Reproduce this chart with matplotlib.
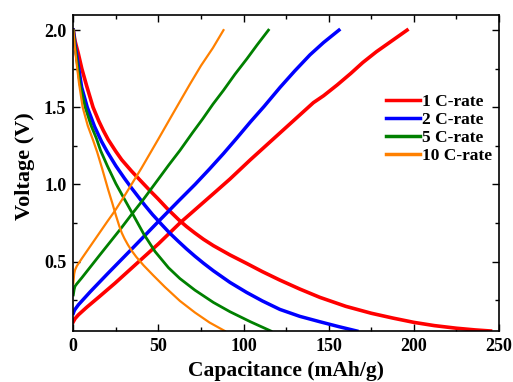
import matplotlib
matplotlib.use("Agg")
import matplotlib.pyplot as plt
from matplotlib.ticker import MultipleLocator

plt.rcParams["font.family"] = ["Liberation Serif", "DejaVu Serif"]
plt.rcParams["font.weight"] = "bold"

labels = ["1 C-rate", "2 C-rate", "5 C-rate", "10 C-rate"]
colors = ["#ff0000", "#0000ff", "#008000", "#ff8000"]
widths = [2.6, 2.5, 2.0, 1.6]

# discharge curves (capacity mAh/g, voltage V)
dis_1c_cap = [0, 1, 2.9, 5, 7.8, 11.6, 15, 17.6, 20.5, 24.9, 28.4, 34.3, 42, 45,
              49.9, 55, 62, 66.5, 71.4, 76.5, 82.3, 92, 101.8, 111, 121.3, 133,
              144.8, 160, 175, 188, 200, 212, 225, 236, 245]
dis_1c_v = [2.0, 1.93, 1.85, 1.75, 1.64, 1.5, 1.41, 1.35, 1.29, 1.215, 1.16, 1.085,
            0.995, 0.96, 0.905, 0.845, 0.77, 0.727, 0.685, 0.644, 0.603, 0.543,
            0.488, 0.435, 0.38, 0.322, 0.268, 0.21, 0.165, 0.133, 0.106, 0.085,
            0.068, 0.057, 0.05]

dis_2c_cap = [0, 1, 2.5, 4.9, 8.2, 12.5, 16.5, 20, 25, 30, 34.3, 42, 46.5, 51.9,
              56.5, 61.6, 66.5, 71.4, 76.5, 82.3, 92, 101.8, 111, 121.3, 133,
              144.8, 156, 166.5]
dis_2c_v = [2.0, 1.91, 1.8, 1.63, 1.5, 1.375, 1.28, 1.21, 1.12, 1.04, 0.975, 0.865,
            0.805, 0.74, 0.686, 0.632, 0.582, 0.535, 0.489, 0.44, 0.365, 0.3,
            0.245, 0.19, 0.145, 0.11, 0.078, 0.05]

dis_5c_cap = [0, 1, 2, 3.9, 7, 10.5, 13.5, 16, 20, 25, 30, 34.3, 41.3, 48, 55.9,
              62.6, 71.4, 82.3, 92, 104, 110, 116]
dis_5c_v = [2.0, 1.9, 1.81, 1.65, 1.5, 1.38, 1.3, 1.22, 1.12, 1.005, 0.905, 0.82,
            0.68, 0.565, 0.46, 0.39, 0.315, 0.235, 0.175, 0.11, 0.08, 0.05]

dis_10c_cap = [0, 1, 2, 3.3, 5.5, 8.5, 11.5, 14, 17, 20.5, 23, 25, 27, 28.5, 30,
               32, 34.3, 37, 41.3, 47, 53.8, 62.6, 71.4, 80, 89]
dis_10c_v = [2.0, 1.88, 1.78, 1.66, 1.5, 1.38, 1.29, 1.21, 1.1, 0.965, 0.875, 0.8,
             0.73, 0.685, 0.65, 0.61, 0.57, 0.53, 0.475, 0.41, 0.335, 0.245, 0.17,
             0.105, 0.05]

# charge curves
chg_1c_cap = [0, 0.5, 1, 3, 8, 15, 24.5, 35, 50, 62.6, 75, 84, 92, 104, 115, 125,
              135, 141, 147, 155, 163, 170, 178, 187, 196]
chg_1c_v = [0.11, 0.12, 0.13, 0.155, 0.205, 0.27, 0.36, 0.465, 0.615, 0.75, 0.87,
            0.957, 1.035, 1.16, 1.27, 1.37, 1.47, 1.53, 1.575, 1.645, 1.72, 1.79,
            1.86, 1.93, 2.0]

chg_2c_cap = [0, 0.5, 1, 3, 10, 20, 34.2, 50, 62, 71.5, 80, 88.2, 96, 104, 112,
              121.5, 130, 139, 147, 156]
chg_2c_v = [0.165, 0.18, 0.19, 0.22, 0.305, 0.42, 0.58, 0.76, 0.895, 1.0, 1.1, 1.2,
            1.3, 1.405, 1.505, 1.63, 1.735, 1.84, 1.92, 2.0]

chg_5c_cap = [0, 0.5, 1, 2, 5, 10, 15, 21.5, 28, 34.2, 41.3, 50, 56, 62.6, 70, 76,
              82, 88.2, 95, 102, 108, 114.6]
chg_5c_v = [0.284, 0.32, 0.34, 0.355, 0.395, 0.465, 0.535, 0.625, 0.715, 0.805,
            0.905, 1.035, 1.125, 1.22, 1.335, 1.425, 1.52, 1.61, 1.715, 1.815,
            1.905, 2.0]

chg_10c_cap = [0, 0.5, 1, 2, 5, 10, 15, 20, 24.5, 30, 35, 40, 45, 50, 57, 63, 68.5,
               75, 82, 88.2]
chg_10c_v = [0.36, 0.42, 0.445, 0.47, 0.52, 0.6, 0.68, 0.76, 0.83, 0.925, 1.015,
             1.105, 1.2, 1.295, 1.43, 1.545, 1.65, 1.77, 1.885, 2.0]

discharge = [(dis_1c_cap, dis_1c_v), (dis_2c_cap, dis_2c_v),
             (dis_5c_cap, dis_5c_v), (dis_10c_cap, dis_10c_v)]
charge = [(chg_1c_cap, chg_1c_v), (chg_2c_cap, chg_2c_v),
          (chg_5c_cap, chg_5c_v), (chg_10c_cap, chg_10c_v)]

fig = plt.figure(figsize=(5.13, 3.82), dpi=100)
ax = fig.add_axes([0.1429, 0.1335, 0.8298, 0.828])

for i in range(4):
    ax.plot(discharge[i][0], discharge[i][1], color=colors[i], lw=widths[i],
            label=labels[i], solid_joinstyle="round")
    ax.plot(charge[i][0], charge[i][1], color=colors[i], lw=widths[i],
            solid_joinstyle="round")

ax.set_xlim(0, 250)
ax.set_ylim(0.05, 2.1)
ax.xaxis.set_major_locator(MultipleLocator(50))
ax.xaxis.set_minor_locator(MultipleLocator(25))
ax.yaxis.set_major_locator(MultipleLocator(0.5))
ax.yaxis.set_minor_locator(MultipleLocator(0.25))
ax.tick_params(which="both", direction="in", top=True, right=True,
               labelsize=13, width=1)
ax.tick_params(which="major", length=5, pad=5)
ax.tick_params(which="minor", length=3)
for s in ax.spines.values():
    s.set_linewidth(1.2)

ax.set_xlabel("Capacitance (mAh/g)", fontsize=15.5, fontweight="bold", labelpad=4)
ax.set_ylabel("Voltage (V)", fontsize=16, fontweight="bold")
ax.yaxis.set_label_coords(-0.09, 0.52)

leg = ax.legend(loc="upper left", bbox_to_anchor=(0.734, 0.75), frameon=False,
                fontsize=12.5, handlelength=2.0, handletextpad=0.1,
                labelspacing=0.1, borderpad=0, borderaxespad=0)
for line in leg.get_lines():
    line.set_linewidth(2.5)

fig.savefig("out.png", dpi=100)
